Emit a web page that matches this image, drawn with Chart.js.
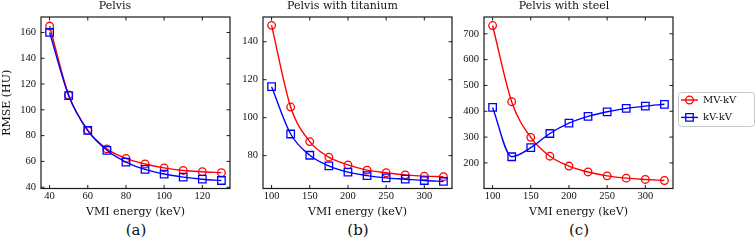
<!DOCTYPE html>
<html>
<head>
<meta charset="utf-8">
<script src="https://cdn.jsdelivr.net/npm/chart.js@4.4.1/dist/chart.umd.min.js"></script>
<style>
  html, body { margin: 0; padding: 0; background: #fff; }
  #wrap { position: relative; width: 756px; height: 244px; overflow: hidden; }
  canvas { position: absolute; top: 0; }
  .cap { position: absolute; top: 222.5px; width: 60px; text-align: center;
         font: 15px "DejaVu Serif", serif; line-height: 15px; color: #111; }
</style>
</head>
<body>
<div id="wrap">
  <canvas id="pa" width="240" height="220" style="left:0px"></canvas>
  <canvas id="pb" width="229" height="220" style="left:233px"></canvas>
  <canvas id="pc" width="301" height="220" style="left:455px"></canvas>
  <div class="cap" style="left:106px">(a)</div>
  <div class="cap" style="left:328px">(b)</div>
  <div class="cap" style="left:549px">(c)</div>
</div>
<script>
// energies (keV)
var energyA = [40, 50, 60, 70, 80, 90, 100, 110, 120, 130];
var energyBC = [100, 125, 150, 175, 200, 225, 250, 275, 300, 325];

// RMSE (HU)
var mvkvA = [165, 111.5, 84, 69.7, 62.3, 58, 55, 53, 52, 51.3];
var kvkvA = [160, 111, 84, 68.6, 59.5, 53.8, 50.2, 47.8, 46.2, 45.2];
var mvkvB = [148.6, 105.6, 87.4, 79.2, 75.1, 72.4, 71, 69.9, 69.2, 68.9];
var kvkvB = [116.3, 91.4, 80.2, 74.6, 71.3, 69.5, 68.3, 67.6, 66.9, 66.4];
var mvkvC = [732, 437, 299, 226, 188, 165, 150, 141, 136, 132];
var kvkvC = [415, 224, 259, 314, 354, 380, 398, 411, 420, 427];

// tick labels
var xTicksA = [40, 60, 80, 100, 120];
var yTicksA = [40, 60, 80, 100, 120, 140, 160];
var xTicksBC = [100, 150, 200, 250, 300];
var yTicksB = [80, 100, 120, 140];
var yTicksC = [200, 300, 400, 500, 600, 700];

var titles = ['Pelvis', 'Pelvis with titanium', 'Pelvis with steel'];
var seriesNames = ['MV-kV', 'kV-kV'];

var ink = '#111';
var serif = 'DejaVu Serif';

function pts(xs, ys) {
  return xs.map(function (x, i) { return {x: x, y: ys[i]}; });
}

// box around plot area + inward ticks on all four sides
var inwardTicks = {
  id: 'inwardTicks',
  afterDatasetsDraw: function (chart) {
    var a = chart.chartArea, ctx = chart.ctx;
    var xs = chart.scales.x, ys = chart.scales.y, L = 3.5;
    ctx.save();
    ctx.strokeStyle = '#1a1a1a';
    ctx.lineWidth = 1;
    ctx.beginPath();
    xs.ticks.forEach(function (t) {
      var p = xs.getPixelForValue(t.value);
      ctx.moveTo(p, a.bottom); ctx.lineTo(p, a.bottom - L);
      ctx.moveTo(p, a.top); ctx.lineTo(p, a.top + L);
    });
    ys.ticks.forEach(function (t) {
      var p = ys.getPixelForValue(t.value);
      ctx.moveTo(a.left, p); ctx.lineTo(a.left + L, p);
      ctx.moveTo(a.right, p); ctx.lineTo(a.right - L, p);
    });
    ctx.stroke();
    ctx.lineWidth = 1.2;
    ctx.strokeRect(a.left, a.top, a.right - a.left, a.bottom - a.top);
    ctx.restore();
  }
};

// matplotlib-like framed legend to the right of the plot
var boxLegend = {
  id: 'boxLegend',
  afterDraw: function (chart) {
    var a = chart.chartArea, ctx = chart.ctx;
    var x0 = a.right + 5, y0 = a.top + 75, w = 76, h = 34;
    ctx.save();
    ctx.beginPath();
    ctx.roundRect(x0 + 0.5, y0 + 0.5, w, h, 3);
    ctx.fillStyle = '#fff';
    ctx.fill();
    ctx.strokeStyle = '#c8c8c8';
    ctx.lineWidth = 1;
    ctx.stroke();
    chart.data.datasets.forEach(function (ds, i) {
      var cy = y0 + 8 + i * 17.4;
      ctx.strokeStyle = ds.borderColor;
      ctx.lineWidth = ds.borderWidth;
      ctx.beginPath();
      ctx.moveTo(x0 + 3, cy); ctx.lineTo(x0 + 20, cy);
      ctx.stroke();
      ctx.fillStyle = 'rgba(0,0,0,0)';
      ctx.lineWidth = ds.pointBorderWidth;
      Chart.helpers.drawPoint(ctx, {pointStyle: ds.pointStyle, radius: ds.pointRadius, rotation: 0, borderWidth: ds.pointBorderWidth}, x0 + 11.5, cy);
      ctx.fillStyle = ink;
      ctx.font = '10px "' + serif + '"';
      ctx.textBaseline = 'middle';
      ctx.textAlign = 'left';
      ctx.fillText(ds.label, x0 + 25, cy + 0.5);
    });
    ctx.restore();
  }
};

function makePanel(id, p) {
  var ctx = document.getElementById(id).getContext('2d');
  return new Chart(ctx, {
    type: 'line',
    data: {
      datasets: [
        {
          label: seriesNames[0],
          data: pts(p.energy, p.mv),
          borderColor: '#ff0000',
          borderWidth: 1.4,
          pointStyle: 'circle',
          pointRadius: 3.8,
          pointBorderWidth: 1.3,
          pointBorderColor: '#ff0000',
          pointBackgroundColor: 'rgba(0,0,0,0)',
          cubicInterpolationMode: 'monotone',
          order: 1
        },
        {
          label: seriesNames[1],
          data: pts(p.energy, p.kv),
          borderColor: '#0000ff',
          borderWidth: 1.4,
          pointStyle: 'rect',
          pointRadius: 5.3,
          pointBorderWidth: 1.3,
          pointBorderColor: '#0000ff',
          pointBackgroundColor: 'rgba(0,0,0,0)',
          cubicInterpolationMode: 'monotone',
          order: 0
        }
      ]
    },
    options: {
      responsive: false,
      animation: false,
      devicePixelRatio: 1,
      layout: { padding: { left: 0, top: 0, bottom: 0, right: p.padRight } },
      plugins: {
        legend: { display: false },
        tooltip: { enabled: false },
        title: {
          display: true,
          text: p.title,
          color: ink,
          font: { family: serif, size: 11, weight: 'normal' },
          padding: { top: 0, bottom: 3.8 }
        }
      },
      scales: {
        x: {
          type: 'linear',
          min: p.xMin,
          max: p.xMax,
          grid: { display: false, drawTicks: false },
          border: { display: false },
          ticks: { color: ink, padding: 1, maxRotation: 0, autoSkip: false,
                   font: { family: 'Liberation Serif', size: 10.5 } },
          title: { display: true, text: 'VMI energy (keV)', color: ink,
                   font: { family: serif, size: 11 }, padding: { top: 0, bottom: 1.4 } },
          afterBuildTicks: function (s) { s.ticks = p.xTicks.map(function (v) { return {value: v}; }); },
          afterFit: function (s) { s.height = 31.5; }
        },
        y: {
          min: p.yMin,
          max: p.yMax,
          grid: { display: false, drawTicks: false },
          border: { display: false },
          ticks: { color: ink, padding: 5, autoSkip: false,
                   font: { family: 'Liberation Serif', size: 10.5 } },
          title: { display: !!p.yTitle, text: p.yTitle || '', color: ink,
                   font: { family: serif, size: 11 }, padding: { top: 1, bottom: 0 } },
          afterBuildTicks: function (s) { s.ticks = p.yTicks.map(function (v) { return {value: v}; }); },
          afterFit: function (s) { s.width = p.yWidth; }
        }
      }
    },
    plugins: p.legend ? [inwardTicks, boxLegend] : [inwardTicks]
  });
}

makePanel('pa', {
  title: titles[0], energy: energyA, mv: mvkvA, kv: kvkvA,
  xMin: 35.5, xMax: 134.5, yMin: 39, yMax: 172,
  xTicks: xTicksA, yTicks: yTicksA, yTitle: 'RMSE (HU)', yWidth: 41, padRight: 10
});
makePanel('pb', {
  title: titles[1], energy: energyBC, mv: mvkvB, kv: kvkvB,
  xMin: 88.75, xMax: 336.25, yMin: 62.7, yMax: 153,
  xTicks: xTicksBC, yTicks: yTicksB, yWidth: 30, padRight: 10
});
makePanel('pc', {
  title: titles[2], energy: energyBC, mv: mvkvC, kv: kvkvC,
  xMin: 88.75, xMax: 336.25, yMin: 101, yMax: 765,
  xTicks: xTicksBC, yTicks: yTicksC, yWidth: 29, padRight: 83, legend: true
});
</script>
</body>
</html>
